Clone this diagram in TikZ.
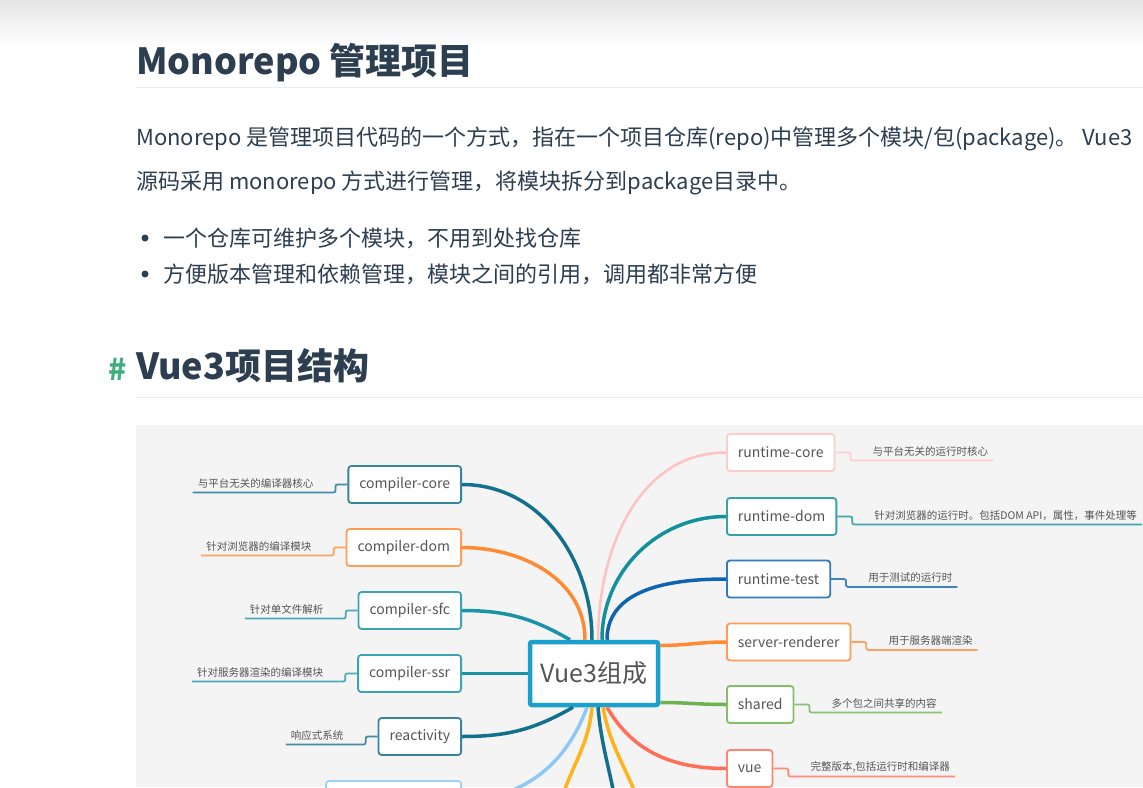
\documentclass[tikz,border=0pt]{standalone}
\usepackage{fontspec}
\setmainfont{Noto Sans CJK SC}
\usetikzlibrary{positioning}

\definecolor{ink}{HTML}{2C3E50}
\definecolor{hashgreen}{HTML}{3EAF7C}
\definecolor{rulegray}{HTML}{EAECEF}
\definecolor{mapbg}{HTML}{F4F4F4}
\definecolor{labelgray}{HTML}{555555}
\definecolor{centre}{HTML}{1AA0CC}
\definecolor{mTealD}{HTML}{12708C}
\definecolor{mTeal}{HTML}{1A93A6}
\definecolor{mTealR}{HTML}{12909C}
\definecolor{mOrange}{HTML}{FF8A33}
\definecolor{mPink}{HTML}{FFC2C2}
\definecolor{mBlue}{HTML}{0D64B0}
\definecolor{mGreen}{HTML}{6DB34F}
\definecolor{mSalmon}{HTML}{FF6F57}
\definecolor{mSky}{HTML}{8EC9F5}
\definecolor{mYellow}{HTML}{FFB21A}

\begin{document}
\begin{tikzpicture}[x=1pt, y=-1pt,
  head/.style={anchor=base west, inner sep=0, text=ink, font=\fontsize{36}{40}\selectfont\bfseries},
  para/.style={anchor=base west, inner sep=0, text=ink, font=\fontsize{22}{26}\selectfont},
  mod/.style={draw=#1!85!white, line width=1.8pt, rounded corners=3pt, fill=white,
    text=labelgray, font=\fontsize{14}{16}\selectfont, inner xsep=11pt, minimum height=37pt},
  desc/.style={text=labelgray, font=\fontsize{10.5}{12}\selectfont, inner xsep=5pt, inner ysep=4pt},
  link/.style={draw=#1, line width=3.5pt},
  dline/.style={draw=#1!80!white, line width=1.8pt, rounded corners=2pt}]
\useasboundingbox (0,0) rectangle (1143,787);
\fill[white] (0,0) rectangle (1143,787);
\shade[top color=black!10, bottom color=white] (0,0) rectangle (1143,48);

% text part
\node[head] (h1) at (136,74) {Monorepo 管理项目};
\draw[rulegray, line width=1pt] (136,87) -- (1143,87);
\node[para] (p1) at (136,145) {Monorepo 是管理项目代码的一个方式，指在一个项目仓库(repo)中管理多个模块/包(package)。 Vue3};
\node[para] (p2) at (136,189) {源码采用 monorepo 方式进行管理，将模块拆分到package目录中。};
\fill[ink] (145,238) circle (3.5);
\node[para] (b1) at (163,246) {一个仓库可维护多个模块，不用到处找仓库};
\fill[ink] (145,274) circle (3.5);
\node[para] (b2) at (163,282) {方便版本管理和依赖管理，模块之间的引用，调用都非常方便};
\node[anchor=base east, inner sep=0, text=hashgreen, font=\fontsize{30}{32}\selectfont\bfseries] (hash) at (127,380) {\#};
\node[head] (h2) at (136,379) {Vue3项目结构};
\draw[rulegray, line width=1pt] (136,397) -- (1143,397);

% mind map
\fill[mapbg] (136,425) rectangle (1143,787);
\node[draw=centre, line width=4.5pt, fill=white, text=labelgray, font=\fontsize{25}{28}\selectfont,
  minimum width=128pt, minimum height=63pt, rounded corners=2pt] (vue3) at (594,673.5) {Vue3组成};

\node[mod=mTealD, anchor=east] (ccore) at (462,484.5) {compiler-core};
\node[mod=mOrange, anchor=east] (cdom) at (462,547.5) {compiler-dom};
\node[mod=mTeal, anchor=east] (csfc) at (462,610.5) {compiler-sfc};
\node[mod=mTeal, anchor=east] (cssr) at (462,673.5) {compiler-ssr};
\node[mod=mTealD, anchor=east] (react) at (462,736.5) {reactivity};
\node[mod=mSky, anchor=north east, minimum width=135pt] (sky) at (462,780) {};
\node[mod=mPink, anchor=west] (rcore) at (726,452.5) {runtime-core};
\node[mod=mTealR, anchor=west] (rdom) at (726,516.5) {runtime-dom};
\node[mod=mBlue, anchor=west] (rtest) at (726,579) {runtime-test};
\node[mod=mOrange, anchor=west] (srender) at (726,642) {server-renderer};
\node[mod=mGreen, anchor=west] (shared) at (726,704.5) {shared};
\node[mod=mSalmon, anchor=west] (vue) at (726,768.5) {vue};

\draw[link=mTealD] (ccore.east) to[out=0,in=90] ([xshift=-2]vue3.north);
\draw[link=mOrange] (cdom.east) to[out=0,in=90] ([xshift=-9]vue3.north);
\draw[link=mTeal] (csfc.east) to[out=0,in=150] ([xshift=-24]vue3.north);
\draw[link=mTeal] (cssr.east) -- (vue3.west);
\draw[link=mTealD] (react.east) to[out=0,in=-150] ([xshift=-21]vue3.south);
\draw[link=mSky] (sky.east) to[out=0,in=-110] ([xshift=-7]vue3.south);
\draw[link=mPink, line width=2.5pt] (rcore.west) to[out=180,in=90] ([xshift=4]vue3.north);
\draw[link=mTealR] (rdom.west) to[out=180,in=90] ([xshift=8]vue3.north);
\draw[link=mBlue] (rtest.west) to[out=180,in=90] ([xshift=13]vue3.north);
\draw[link=mOrange] ([yshift=28]vue3.east) to[out=0,in=180] (srender.west);
\draw[link=mGreen] ([yshift=-29]vue3.east) to[out=0,in=180] (shared.west);
\draw[link=mSalmon] ([xshift=13]vue3.south) to[out=-60,in=180] (vue.west);

% branches running off the bottom
\coordinate (offa) at (560,805);
\coordinate (offb) at (616,805);
\coordinate (offc) at (640,805);
\draw[link=mYellow] ([xshift=-2]vue3.south) to[out=-95,in=75] (offa);
\draw[link=mTealD] ([xshift=4]vue3.south) to[out=-85,in=100] (offb);
\draw[link=mYellow] ([xshift=9]vue3.south) to[out=-80,in=110] (offc);

% notes
\node[desc, anchor=south east] (dccore) at ([shift={(-29,8)}]ccore.west) {与平台无关的编译器核心};
\node[desc, anchor=south east] (dcdom) at ([shift={(-29,8)}]cdom.west) {针对浏览器的编译模块};
\node[desc, anchor=south east] (dcsfc) at ([shift={(-29,8)}]csfc.west) {针对单文件解析};
\node[desc, anchor=south east] (dcssr) at ([shift={(-29,8)}]cssr.west) {针对服务器渲染的编译模块};
\node[desc, anchor=south east] (dreact) at ([shift={(-29,8)}]react.west) {响应式系统};
\draw[dline=mTealD] (ccore.west) -- ++(-12,0) |- (dccore.south west);
\draw[dline=mOrange] (cdom.west) -- ++(-12,0) |- (dcdom.south west);
\draw[dline=mTeal] (csfc.west) -- ++(-12,0) |- (dcsfc.south west);
\draw[dline=mTeal] (cssr.west) -- ++(-12,0) |- (dcssr.south west);
\draw[dline=mTealD] (react.west) -- ++(-12,0) |- (dreact.south west);

\node[desc, anchor=south west] (drcore) at ([shift={(32,8)}]rcore.east) {与平台无关的运行时核心};
\node[desc, anchor=south west] (drdom) at ([shift={(32,8)}]rdom.east) {针对浏览器的运行时。包括DOM API，属性，事件处理等};
\node[desc, anchor=south west] (drtest) at ([shift={(32,8)}]rtest.east) {用于测试的运行时};
\node[desc, anchor=south west] (dsrender) at ([shift={(32,8)}]srender.east) {用于服务器端渲染};
\node[desc, anchor=south west] (dshared) at ([shift={(32,8)}]shared.east) {多个包之间共享的内容};
\node[desc, anchor=south west] (dvue) at ([shift={(32,8)}]vue.east) {完整版本,包括运行时和编译器};
\draw[dline=mPink] (rcore.east) -- ++(15,0) |- (drcore.south east);
\draw[dline=mTealR] (rdom.east) -- ++(15,0) |- (drdom.south east);
\draw[dline=mBlue] (rtest.east) -- ++(15,0) |- (drtest.south east);
\draw[dline=mOrange] (srender.east) -- ++(15,0) |- (dsrender.south east);
\draw[dline=mGreen] (shared.east) -- ++(15,0) |- (dshared.south east);
\draw[dline=mSalmon] (vue.east) -- ++(15,0) |- (dvue.south east);
\end{tikzpicture}
\end{document}
